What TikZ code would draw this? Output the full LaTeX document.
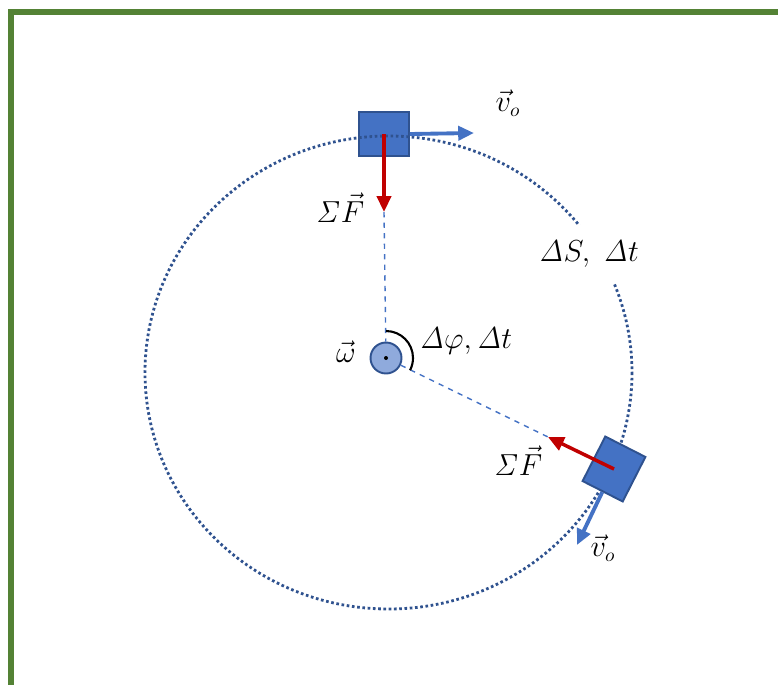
\documentclass[tikz,border=0pt]{standalone}
\usepackage{amsmath,amssymb}
\usepackage{tikz}
\usetikzlibrary{arrows.meta,calc,positioning}
\usepackage{xcolor}

\definecolor{framegreen}{HTML}{548235}
\definecolor{massfill}{HTML}{4472C4}
\definecolor{massedge}{HTML}{2F528F}
\definecolor{velblue}{HTML}{4472C4}
\definecolor{forcered}{HTML}{C00000}
\definecolor{axisfill}{HTML}{8FAADC}

\begin{document}
\begin{tikzpicture}[x=0.02cm, y=-0.02cm,
  every node/.style={font=\fontsize{16}{19}\selectfont},
  mass/.style={draw=massedge, fill=massfill, line width=1.1pt, minimum width=1cm, minimum height=0.88cm, inner sep=0pt},
  vel/.style={draw=velblue, line width=2.2pt, -{Triangle[length=9pt,width=8pt]}},
  force/.style={draw=forcered, line width=2pt, -{Triangle[length=9pt,width=8pt]}},
  radiusline/.style={draw=velblue, dashed, line width=0.8pt},
  pathline/.style={draw=massedge, line width=1.6pt, dash pattern=on 1.5pt off 1.5pt}]

\useasboundingbox (0,0) rectangle (778,684);

% --- Rahmen ---
\draw[framegreen, line width=3.4pt] (11,690) -- (11,12) -- (785,12);

% --- Drehachse und Radien ---
\node[circle, draw=massedge, fill=axisfill, line width=1.1pt, minimum size=0.62cm, inner sep=0pt] (axis) at (386,358) {};
\fill (axis.center) circle (2);
\coordinate (ftop) at (384,212);
\coordinate (fbot) at (548,437);
\coordinate (vtop) at (474,133);
\coordinate (vbot) at (577,545);
\draw[radiusline] (ftop) -- (axis);
\draw[radiusline] (axis) -- (fbot);
\draw[line width=1.2pt] (axis.center) ++(0,-27) arc[start angle=-90, end angle=27, radius=27];

% --- Bahn und Massen ---
\node[mass] (mtop) at (384,134) {};
\draw[pathline] (388.5,372.5) ellipse [x radius=243.5, y radius=236.5];
\node[mass, minimum width=0.9cm, minimum height=1cm, rotate=-27] (mbot) at (614,469) {};

\draw[force] (mtop.center) -- (ftop);
\draw[vel] (mtop.east) -- (vtop);
\draw[force] (mbot.center) -- (fbot);
\draw[vel] (mbot.south) -- (vbot);

% --- Beschriftungen ---
\node (lvtop) at (508,103) {$\vec{v}_o$};
\node (lftop) at (340,208) {$\mathit{\Sigma}\vec{F}$};
\node (lomega) at (346,352) {$\vec{\omega}$};
\node (lphi) at (466,341) {$\mathit{\Delta}\varphi,\mathit{\Delta}t$};
\node[fill=white, inner xsep=2pt, inner ysep=9pt] (larc) at (589,254) {$\mathit{\Delta}S,\ \mathit{\Delta}t$};
\node (lfbot) at (518,461) {$\mathit{\Sigma}\vec{F}$};
\node (lvbot) at (603,548) {$\vec{v}_o$};

\end{tikzpicture}
\end{document}
